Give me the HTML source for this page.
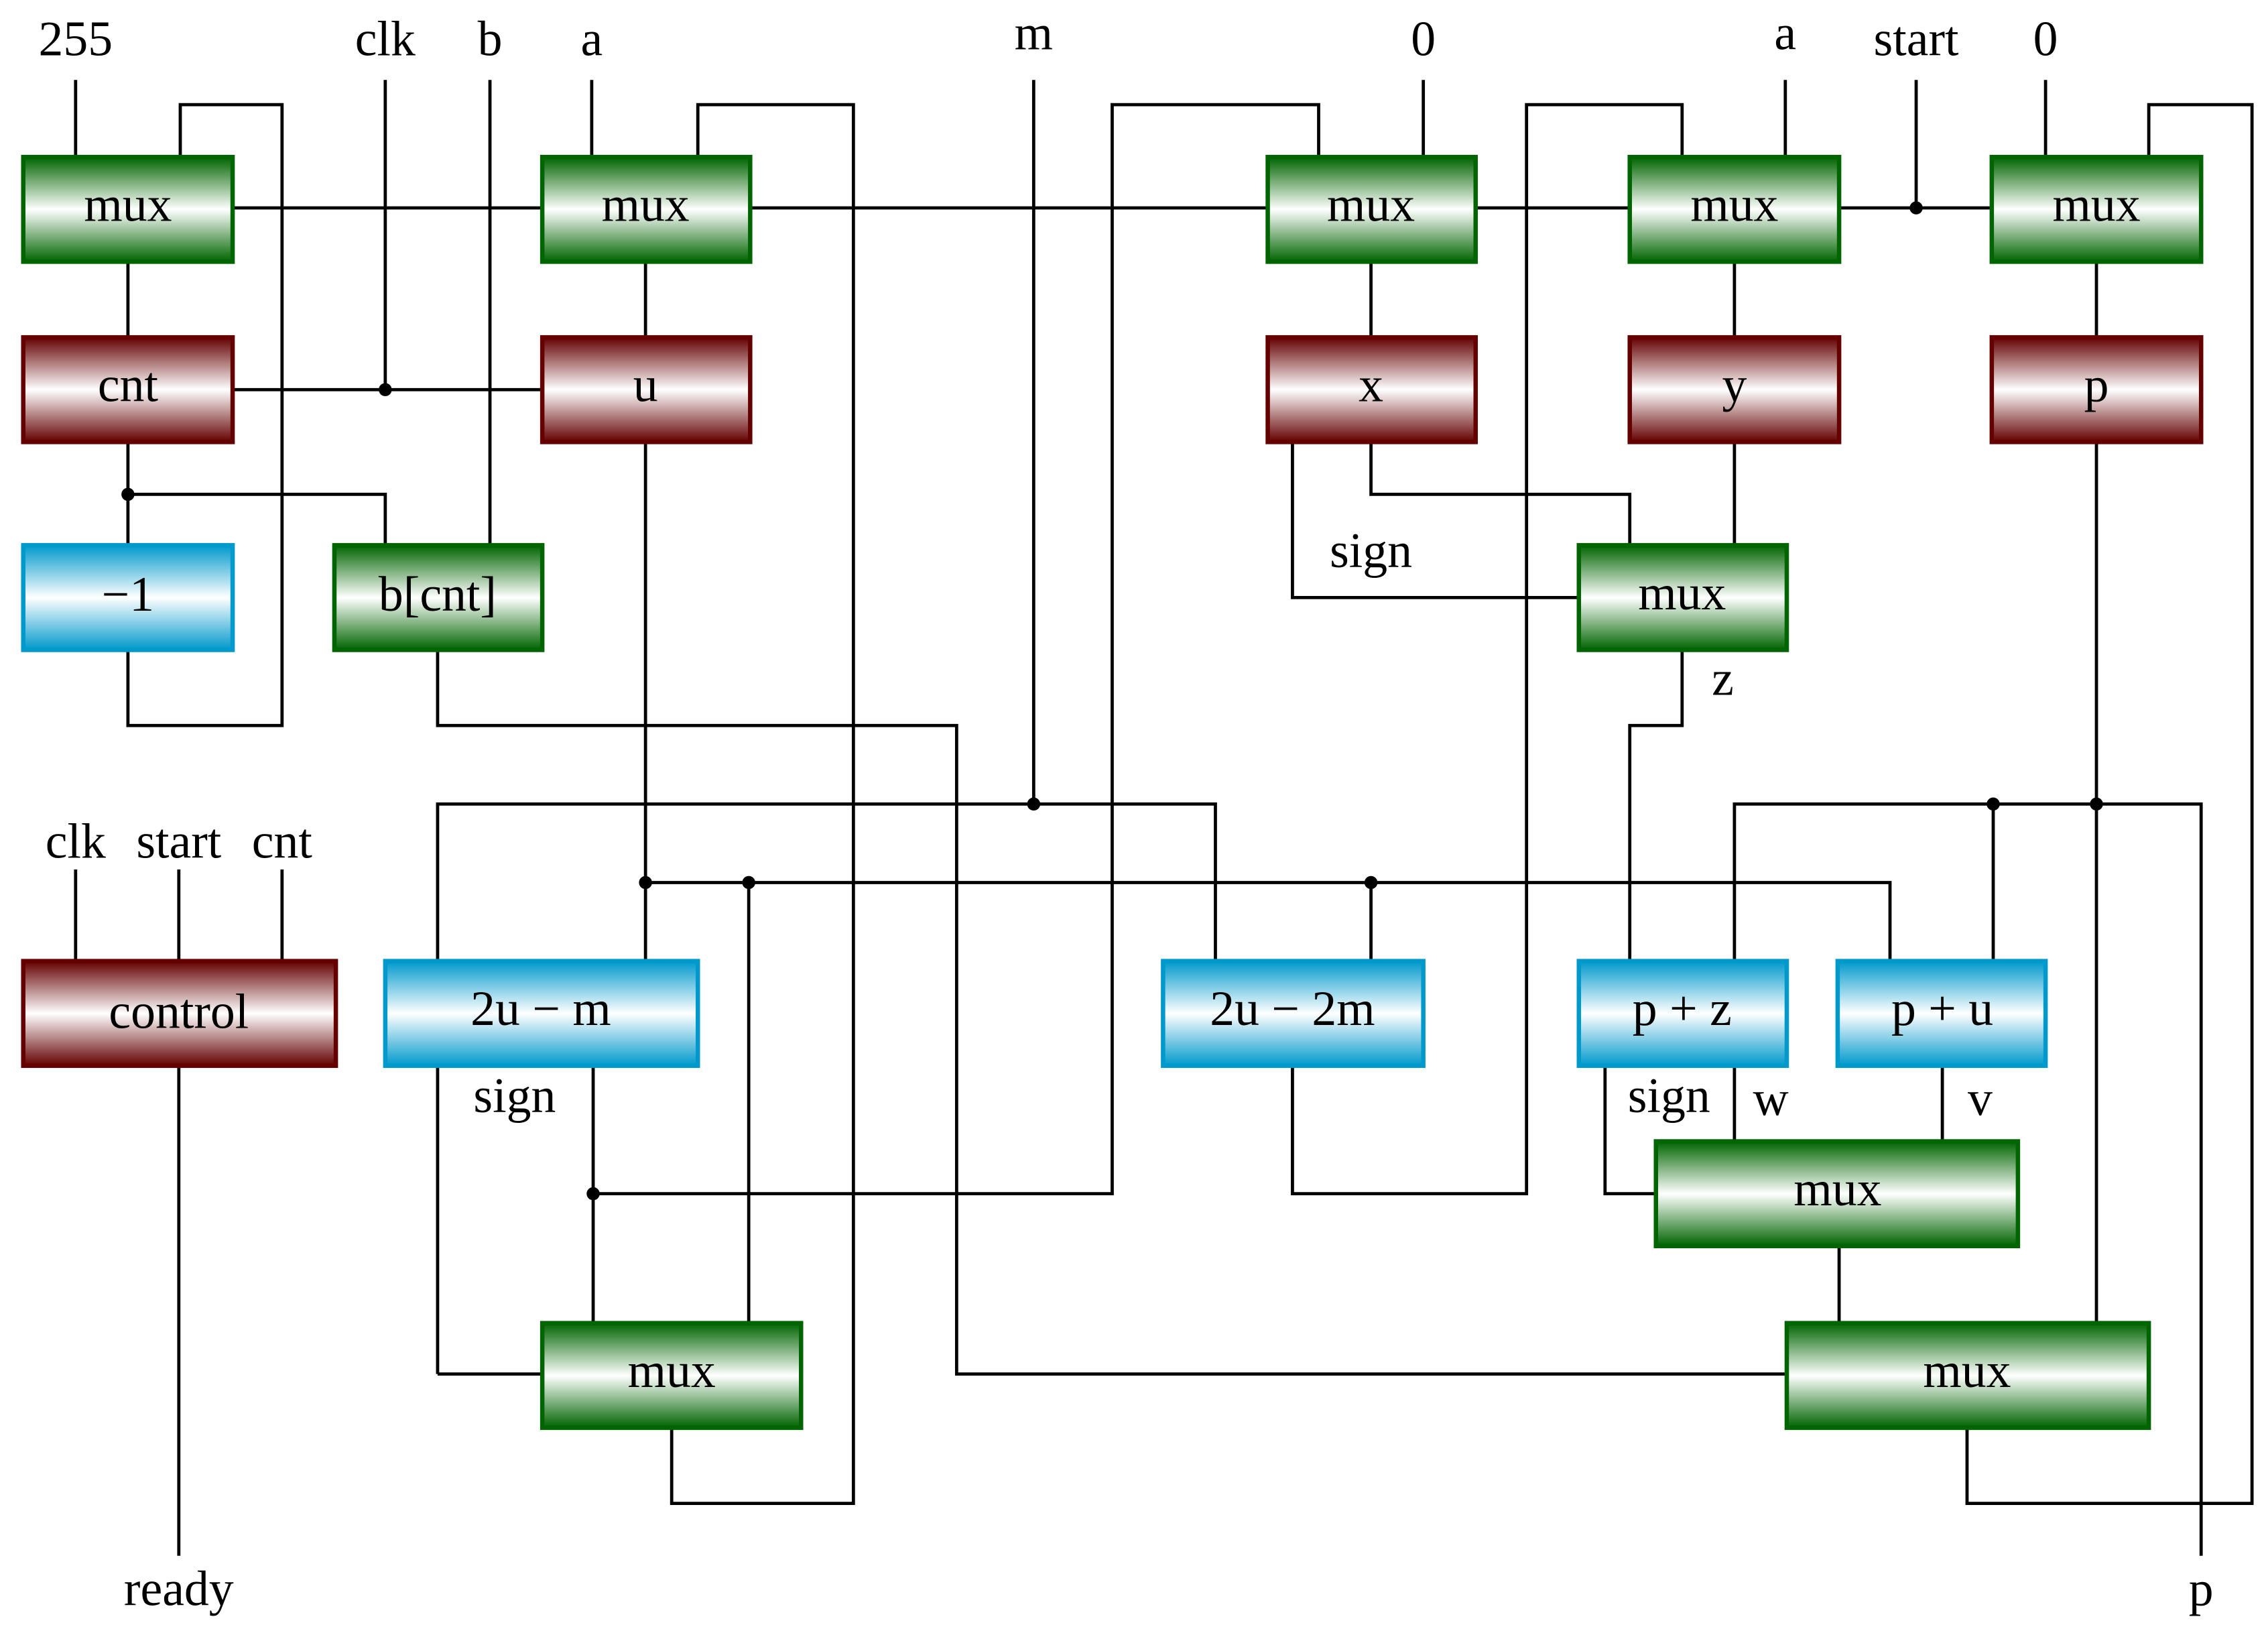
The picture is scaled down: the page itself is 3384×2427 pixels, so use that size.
<!DOCTYPE html>
<html><head><meta charset="utf-8"><style>html,body{margin:0;padding:0;background:#fff}svg{display:block}</style></head>
<body>
<svg width="3384" height="2427" viewBox="0 0 1560 1119" preserveAspectRatio="none" xmlns="http://www.w3.org/2000/svg">
<defs>
<linearGradient id="g" x1="0" y1="0" x2="0" y2="1"><stop offset="0" stop-color="#006400"/><stop offset="0.5" stop-color="#ffffff"/><stop offset="1" stop-color="#006400"/></linearGradient>
<linearGradient id="r" x1="0" y1="0" x2="0" y2="1"><stop offset="0" stop-color="#640000"/><stop offset="0.5" stop-color="#ffffff"/><stop offset="1" stop-color="#640000"/></linearGradient>
<linearGradient id="b" x1="0" y1="0" x2="0" y2="1"><stop offset="0" stop-color="#0099cc"/><stop offset="0.5" stop-color="#ffffff"/><stop offset="1" stop-color="#0099cc"/></linearGradient>
</defs>
<g fill="none" stroke="#000" stroke-width="2.2">
<path d="M52 55V108M124 108V72H194V499H88V447"/>
<path d="M265 55V268M337 55V375M407 55V108"/>
<path d="M480 108V72H587V1034H462V982"/>
<path d="M160 143H373M516 143H872M1015 143H1121M1265 143H1370M1318 55V143"/>
<path d="M711 55V553"/>
<path d="M979 55V108M907 108V72H765V821H408"/>
<path d="M1228 55V108M1157 108V72H1050V821H889V733"/>
<path d="M1407 55V108M1478 108V72H1549V1034H1353V982"/>
<path d="M88 180V232M88 304V375M88 340H265V375M160 268H373"/>
<path d="M444 180V232M444 304V661M444 607H1300V661M515 607V910M943 607V661"/>
<path d="M301 945V553H836V661M301 945H373"/>
<path d="M301 447V499H658V945H1229"/>
<path d="M408 733V910"/>
<path d="M943 180V232M889 304V411H1086M943 304V340H1121V375"/>
<path d="M1193 180V232M1193 304V375M1157 447V499H1121V661"/>
<path d="M1442 180V232M1442 304V910M1193 661V553H1514V1070M1371 553V661"/>
<path d="M1104 733V821H1139M1193 733V785M1336 733V785M1265 857V910"/>
<path d="M52 598V661M123 598V661M194 598V661M123 733V1070"/>
</g>
<g fill="#000">
<circle cx="265" cy="268" r="4.5"/><circle cx="88" cy="340" r="4.5"/><circle cx="1318" cy="143" r="4.5"/>
<circle cx="711" cy="553" r="4.5"/><circle cx="444" cy="607" r="4.5"/><circle cx="515" cy="607" r="4.5"/>
<circle cx="943" cy="607" r="4.5"/><circle cx="408" cy="821" r="4.5"/><circle cx="1371" cy="553" r="4.5"/><circle cx="1442" cy="553" r="4.5"/>
</g>
<g stroke-width="3">
<rect x="16" y="108" width="144" height="72" fill="url(#g)" stroke="#006400"/>
<rect x="373" y="108" width="143" height="72" fill="url(#g)" stroke="#006400"/>
<rect x="872" y="108" width="143" height="72" fill="url(#g)" stroke="#006400"/>
<rect x="1121" y="108" width="144" height="72" fill="url(#g)" stroke="#006400"/>
<rect x="1370" y="108" width="144" height="72" fill="url(#g)" stroke="#006400"/>
<rect x="16" y="232" width="144" height="72" fill="url(#r)" stroke="#640000"/>
<rect x="373" y="232" width="143" height="72" fill="url(#r)" stroke="#640000"/>
<rect x="872" y="232" width="143" height="72" fill="url(#r)" stroke="#640000"/>
<rect x="1121" y="232" width="144" height="72" fill="url(#r)" stroke="#640000"/>
<rect x="1370" y="232" width="144" height="72" fill="url(#r)" stroke="#640000"/>
<rect x="16" y="375" width="144" height="72" fill="url(#b)" stroke="#0099cc"/>
<rect x="230" y="375" width="143" height="72" fill="url(#g)" stroke="#006400"/>
<rect x="1086" y="375" width="143" height="72" fill="url(#g)" stroke="#006400"/>
<rect x="16" y="661" width="215" height="72" fill="url(#r)" stroke="#640000"/>
<rect x="265" y="661" width="215" height="72" fill="url(#b)" stroke="#0099cc"/>
<rect x="800" y="661" width="179" height="72" fill="url(#b)" stroke="#0099cc"/>
<rect x="1086" y="661" width="143" height="72" fill="url(#b)" stroke="#0099cc"/>
<rect x="1264" y="661" width="143" height="72" fill="url(#b)" stroke="#0099cc"/>
<rect x="1139" y="785" width="249" height="72" fill="url(#g)" stroke="#006400"/>
<rect x="373" y="910" width="178" height="72" fill="url(#g)" stroke="#006400"/>
<rect x="1229" y="910" width="249" height="72" fill="url(#g)" stroke="#006400"/>
</g>
<g font-family="Liberation Serif, serif" font-size="34" text-anchor="middle" fill="#000">
<text x="88" y="152">mux</text><text x="444" y="152">mux</text><text x="943" y="152">mux</text><text x="1193" y="152">mux</text><text x="1442" y="152">mux</text>
<text x="88" y="276">cnt</text><text x="444" y="276">u</text><text x="943" y="276">x</text><text x="1193" y="276">y</text><text x="1442" y="276">p</text>
<text x="88" y="420">−1</text><text x="301" y="420">b[cnt]</text><text x="1157" y="419">mux</text>
<text x="123" y="707">control</text><text x="372" y="705">2u − m</text><text x="889" y="705">2u − 2m</text><text x="1157" y="705">p + z</text><text x="1336" y="705">p + u</text>
<text x="1264" y="829">mux</text><text x="462" y="954">mux</text><text x="1353" y="954">mux</text>
<text x="52" y="38">255</text><text x="265" y="38">clk</text><text x="337" y="38">b</text><text x="407" y="38">a</text><text x="711" y="34">m</text><text x="979" y="38">0</text><text x="1228" y="34">a</text><text x="1318" y="38">start</text><text x="1407" y="38">0</text>
<text x="52" y="590">clk</text><text x="123" y="590">start</text><text x="194" y="590">cnt</text>
<text x="943" y="390">sign</text><text x="1185" y="478">z</text><text x="354" y="765">sign</text><text x="1148" y="765">sign</text><text x="1218" y="767">w</text><text x="1362" y="767">v</text>
<text x="123" y="1104">ready</text><text x="1514" y="1104">p</text>
</g>
</svg>
</body></html>
